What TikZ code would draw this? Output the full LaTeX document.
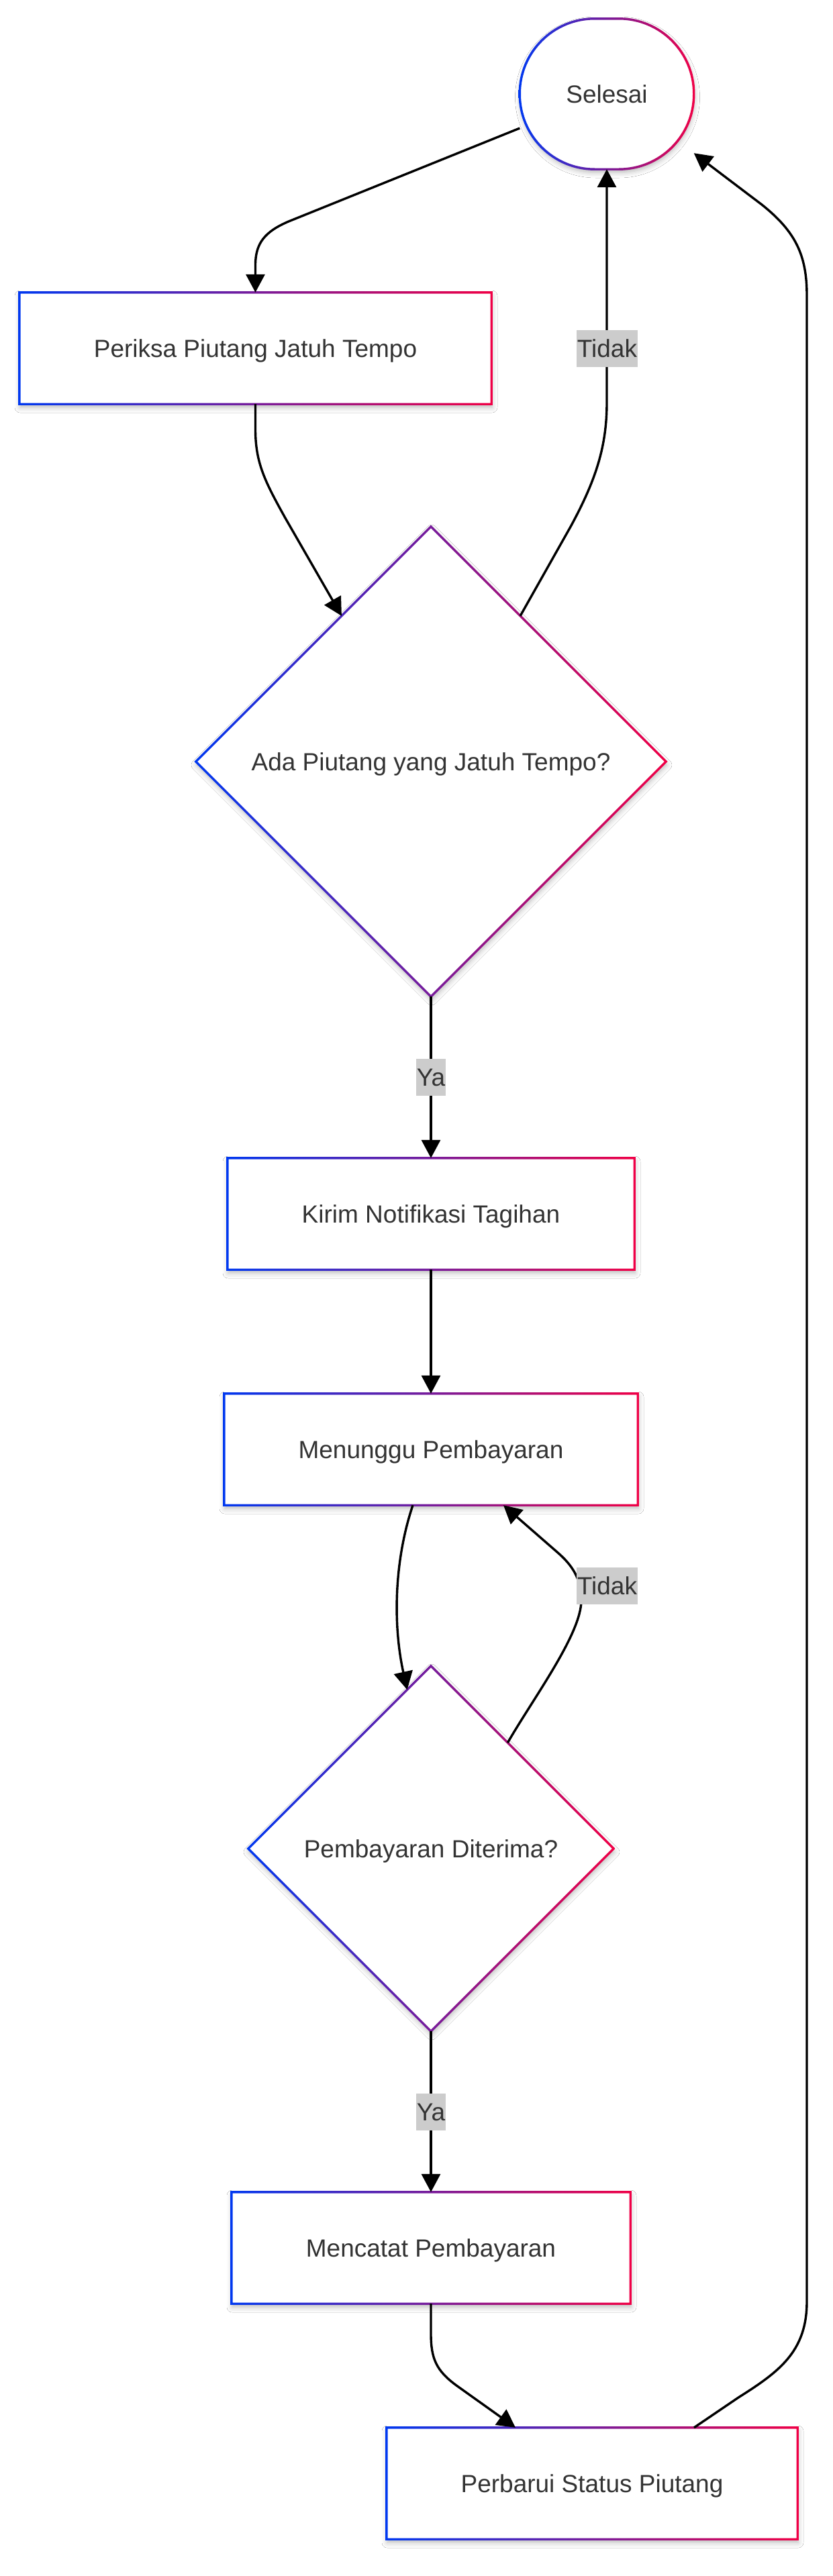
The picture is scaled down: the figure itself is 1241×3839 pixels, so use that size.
\documentclass[tikz,border=0pt]{standalone}
\usepackage{fontspec}
\setmainfont{Liberation Sans}[Ligatures=NoCommon]
\usetikzlibrary{shapes.geometric,arrows.meta,calc,shadows.blur}
\definecolor{gblue}{RGB}{0,56,240}
\definecolor{gred}{RGB}{240,0,70}
\definecolor{txtgray}{RGB}{51,51,51}
\definecolor{lblgray}{RGB}{204,204,204}
\newcommand\gradrect[1]{%
  \shade[left color=gblue,right color=gred,even odd rule]
    ([shift={(-1.7,-1.7)}]#1.north west) rectangle ([shift={(1.7,1.7)}]#1.south east)
    ([shift={(1.7,1.7)}]#1.north west) rectangle ([shift={(-1.7,-1.7)}]#1.south east);}
\newcommand\graddiamond[1]{%
  \shade[left color=gblue,right color=gred,even odd rule]
    ([yshift=2.4pt]#1.north) -- ([xshift=2.4pt]#1.east) -- ([yshift=-2.4pt]#1.south) -- ([xshift=-2.4pt]#1.west) -- cycle
    ([yshift=-2.4pt]#1.north) -- ([xshift=-2.4pt]#1.east) -- ([yshift=2.4pt]#1.south) -- ([xshift=2.4pt]#1.west) -- cycle;}
\begin{document}
\begin{tikzpicture}[x=1pt,y=-1pt,
  every node/.style={font=\fontsize{37}{44}\selectfont, text=txtgray},
  softshadow/.style={blur shadow={shadow xshift=1pt, shadow yshift=-5pt, shadow blur radius=8pt, shadow opacity=28}},
  boxnode/.style={rectangle, fill=white, inner sep=0pt, minimum height=166pt, text height=26.5pt, text depth=0pt, softshadow},
  decnode/.style={diamond, aspect=1, fill=white, inner sep=0pt, text height=26.5pt, text depth=0pt, softshadow},
  conn/.style={draw=black, line width=3.4pt, -{Triangle[length=27pt,width=28pt]}},
  lbl/.style={fill=lblgray, inner xsep=0.5pt, inner ysep=0pt, minimum height=55pt, text height=26.5pt, text depth=0pt}
]
\fill[white] (0,0) rectangle (1241,3839);
\useasboundingbox (0,0) rectangle (1241,3839);

% nodes
\node[rectangle, rounded corners=112pt, fill=white, inner sep=0pt, minimum width=259pt, minimum height=224pt, text height=26.5pt, text depth=0pt, softshadow] (sel) at (904,140) {Selesai};
\node[boxnode, minimum width=703pt] (per) at (380.5,519) {Periksa Piutang Jatuh Tempo};
\node[decnode, minimum width=700pt, minimum height=700pt] (d1) at (642,1135) {Ada Piutang yang Jatuh Tempo?};
\node[boxnode, minimum width=606pt] (kir) at (642,1809) {Kirim Notifikasi Tagihan};
\node[boxnode, minimum width=616pt] (men) at (642,2160) {Menunggu Pembayaran};
\node[decnode, minimum width=544pt, minimum height=544pt] (d2) at (642,2755) {Pembayaran Diterima?};
\node[boxnode, minimum width=594pt] (mc) at (642,3350) {Mencatat Pembayaran};
\node[boxnode, minimum width=612pt] (pb) at (882,3701) {Perbarui Status Piutang};

% gradient borders
\shade[left color=gblue,right color=gred,even odd rule]
  [rounded corners=113pt] ([shift={(-1.7,-1.7)}]sel.north west) rectangle ([shift={(1.7,1.7)}]sel.south east)
  [rounded corners=110pt] ([shift={(1.7,1.7)}]sel.north west) rectangle ([shift={(-1.7,-1.7)}]sel.south east);
\gradrect{per}
\gradrect{kir}
\gradrect{men}
\gradrect{mc}
\gradrect{pb}
\graddiamond{d1}
\graddiamond{d2}

% connectors
\draw[conn] ([yshift=-51pt]sel.west) -- (430,330) .. controls (395,345) and (380.5,362) .. (380.5,395) -- (per.north);
\draw[conn] (per.south) -- (380.5,640) .. controls (380.5,690) and (395,718) .. (425,772) -- ($(d1.north)!0.38!(d1.west)$);
\draw[conn] ($(d1.north)!0.38!(d1.east)$) -- (850,785) .. controls (888,715) and (904,665) .. (904,600) -- (sel.south);
\draw[conn] (d1.south) -- node[lbl] (ya1) {Ya} (kir.north);
\draw[conn] (kir.south) -- (men.north);
\draw[conn] ([xshift=-27pt]men.south) .. controls (586,2330) and (586,2425) .. ($(d2.north)!0.13!(d2.west)$);
\draw[conn] ($(d2.north)!0.42!(d2.east)$) .. controls (795,2530) and (866,2435) .. (866,2385) .. controls (866,2352) and (852,2332) .. (830,2313) -- ([xshift=108pt]men.south);
\draw[conn] (d2.south) -- node[lbl] (ya2) {Ya} (mc.north);
\draw[conn] (mc.south) -- (642,3478) .. controls (642,3515) and (650,3533) .. (680,3555) -- ([xshift=-114pt]pb.north);
\draw[conn] ([xshift=152pt]pb.north) -- (1100,3573) .. controls (1160,3535) and (1202,3505) .. (1202,3430) -- (1202,440) .. controls (1202,380) and (1185,345) .. (1135,305) -- ([yshift=24pt]sel.south east);

% labels on the loop edges
\node[lbl] (tidak1) at (904.5,519.5) {Tidak};
\node[lbl] (tidak2) at (904.5,2363.5) {Tidak};
\end{tikzpicture}
\end{document}
